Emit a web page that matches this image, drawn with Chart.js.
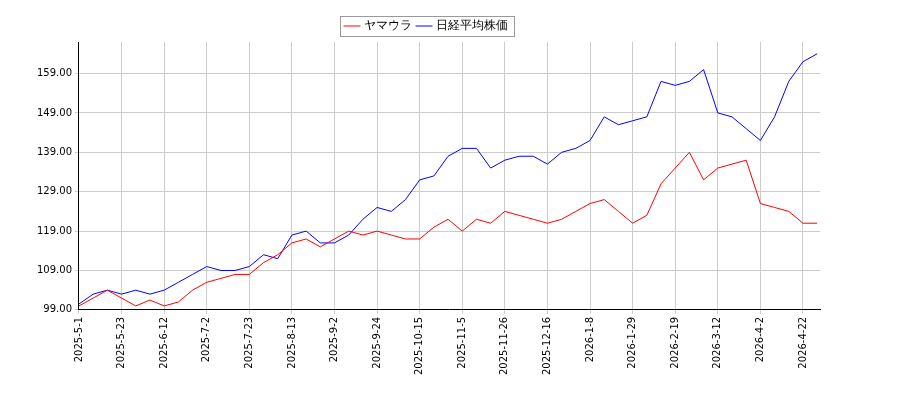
<!DOCTYPE html>
<html>
<head>
<meta charset="utf-8">
<script src="https://cdn.jsdelivr.net/npm/chart.js@4"></script>
<style>
  body { margin: 0; background: #fff; }
  #wrap { width: 900px; height: 400px; }
</style>
</head>
<body>
<div id="wrap"><canvas id="c"></canvas></div>
<script>
// --- Data (every 5th trading day) ---
const tickLabels = ['2025-5-1', '2025-5-23', '2025-6-12', '2025-7-2', '2025-7-23', '2025-8-13', '2025-9-2', '2025-9-24',
    '2025-10-15', '2025-11-5', '2025-11-26', '2025-12-16', '2026-1-8', '2026-1-29', '2026-2-19', '2026-3-12', '2026-4-2', '2026-4-22'];
const dayIndex = [0, 5, 10, 15, 20, 25, 30, 35, 40, 45, 50, 55, 60, 65, 70, 75, 80, 85, 90, 95, 100, 105, 110, 115, 120, 125,
    130, 135, 140, 145, 150, 155, 160, 165, 170, 175, 180, 185, 190, 195, 200, 205, 210, 215, 220, 225, 230, 235, 240, 245, 250, 255, 260];
const yamaura = [100, 102, 104, 102, 100, 101.5, 100, 101, 104, 106, 107, 108, 108, 111, 113, 116, 117, 115, 117, 119, 118, 119, 118, 117, 117, 120,
    122, 119, 122, 121, 124, 123, 122, 121, 122, 124, 126, 127, 124, 121, 123, 131, 135, 139, 132, 135, 136, 137, 126, 125, 124, 121, 121];
const nikkei = [100.5, 103, 104, 103, 104, 103, 104, 106, 108, 110, 109, 109, 110, 113, 112, 118, 119, 116, 116, 118, 122, 125, 124, 127, 132, 133,
    138, 140, 140, 135, 137, 138, 138, 136, 139, 140, 142, 148, 146, 147, 148, 157, 156, 157, 160, 149, 148, 145, 142, 148, 157, 162, 164];

const toPoints = (vals) => vals.map((v, i) => ({ x: dayIndex[i], y: v }));

// draws the frame around the legend items
const legendBox = {
    id: 'legendBox',
    afterDraw(chart) {
        const hb = chart.legend.legendHitBoxes;
        if (!hb || !hb.length) return;
        const left = Math.min(...hb.map(b => b.left)) - 6;
        const right = Math.max(...hb.map(b => b.left + b.width)) + 6;
        const top = Math.min(...hb.map(b => b.top)) - 4;
        const bottom = Math.max(...hb.map(b => b.top + b.height)) + 4;
        const ctx = chart.ctx;
        ctx.save();
        ctx.strokeStyle = '#999';
        ctx.lineWidth = 1;
        ctx.strokeRect(Math.round(left) + 0.5, Math.round(top) + 0.5, Math.round(right - left), Math.round(bottom - top));
        ctx.restore();
    }
};

new Chart(document.getElementById('c'), {
    type: 'line',
    data: {
        datasets: [
            { label: 'ヤマウラ', data: toPoints(yamaura), borderColor: '#ff0000', backgroundColor: '#ff0000', borderWidth: 1, pointRadius: 0, tension: 0 },
            { label: '日経平均株価', data: toPoints(nikkei), borderColor: '#0000ff', backgroundColor: '#0000ff', borderWidth: 1, pointRadius: 0, tension: 0 }
        ]
    },
    options: {
        responsive: true,
        maintainAspectRatio: false,
        animation: false,
        layout: { padding: { left: 34, right: 80, top: 14, bottom: 22 } },
        plugins: {
            legend: {
                position: 'top',
                maxWidth: 130,
                labels: { usePointStyle: true, pointStyle: 'line', color: '#000', font: { family: 'DejaVu Sans', size: 12 }, boxWidth: 20, padding: 6 }
            },
            tooltip: { enabled: false }
        },
        scales: {
            x: {
                type: 'linear', min: 0, max: 261,
                grid: { color: '#cccccc', tickLength: 4 },
                border: { color: '#000' },
                ticks: {
                    stepSize: 15, maxRotation: 90, minRotation: 90, autoSkip: false, color: '#000',
                    font: { family: 'DejaVu Sans', size: 10 },
                    callback: (v) => (v % 15 === 0 ? tickLabels[v / 15] : '')
                },
                afterBuildTicks: (axis) => { axis.ticks = tickLabels.map((t, i) => ({ value: i * 15 })); }
            },
            y: {
                min: 99, max: 167,
                grid: { color: '#cccccc', tickLength: 4 },
                border: { color: '#000' },
                ticks: { color: '#000', font: { family: 'DejaVu Sans', size: 10 }, callback: (v) => v.toFixed(2) },
                afterBuildTicks: (axis) => { axis.ticks = [99, 109, 119, 129, 139, 149, 159].map(v => ({ value: v })); }
            }
        }
    },
    plugins: [legendBox]
});
</script>
</body>
</html>
